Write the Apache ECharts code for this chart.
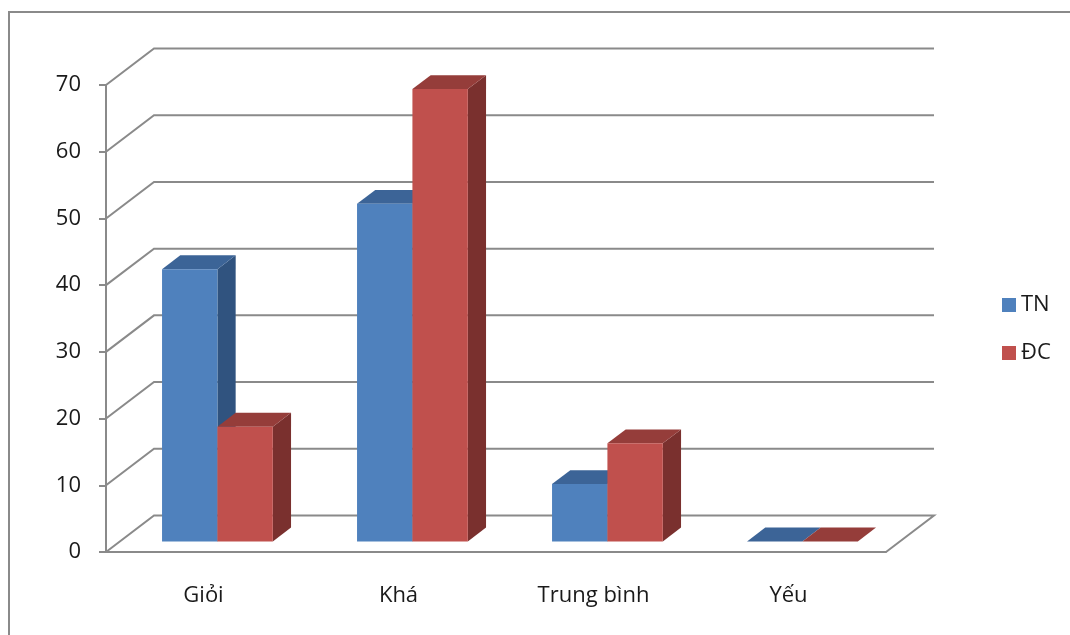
<!DOCTYPE html>
<html>
<head>
<meta charset="utf-8">
<script src="https://cdn.jsdelivr.net/npm/echarts@6/dist/echarts.min.js"></script>
<style>
  html, body { margin: 0; padding: 0; background: #ffffff; }
  #chart { width: 1070px; height: 635px; }
</style>
</head>
<body>
<div id="chart"></div>
<script>
// Xếp loại kết quả học tập: lớp thực nghiệm (TN) và lớp đối chứng (ĐC), %
const categories = ['Giỏi', 'Khá', 'Trung bình', 'Yếu'];
const seriesNames = ['TN', 'ĐC'];
const valuesTN = [40.8, 50.6, 8.6, 0];
const valuesDC = [17.2, 67.8, 14.7, 0];
const yTicks = [0, 10, 20, 30, 40, 50, 60, 70];

// oblique projection of the floor depth (pixels)
const DEPTH = [48, -36.5];
const BAR_FRONT = 0.29;   // bars start this far back on the floor
const BAR_DEPTH = 0.38;   // and are this deep
const BAR_WIDTH = 0.284;  // of one category band

const GRID_COLOR = '#8a8a8a';
const LINE_W = 2;
const TEXT_COLOR = '#1a1a1a';
const FONT = '"Open Sans", "DejaVu Sans", sans-serif';

const palettes = [
  { front: '#4f81bd', top: '#3c6497', side: '#30537f' },
  { front: '#c0504d', top: '#953d3a', side: '#7a302e' }
];

function wallItem(params, api) {
  const cs = params.coordSys;
  const v = api.value(0);
  const y = api.coord([0, v])[1];
  const left = cs.x;
  const right = cs.x + cs.width;
  const pts = [[left, y], [left + DEPTH[0], y + DEPTH[1]], [right + DEPTH[0], y + DEPTH[1]]];
  if (v === 0) pts.push([right, y]);
  return {
    type: 'polyline',
    shape: { points: pts },
    style: { stroke: GRID_COLOR, lineWidth: LINE_W, fill: null },
    silent: true
  };
}

function barRenderer(seriesIndex) {
  const pal = palettes[seriesIndex];
  return function (params, api) {
    const idx = api.value(0);
    const val = api.value(1);
    const center = api.coord([idx, 0]);
    const top = api.coord([idx, val]);
    const band = api.size([1, 0])[0];
    const w = band * BAR_WIDTH;
    const sx = DEPTH[0] * BAR_FRONT, sy = DEPTH[1] * BAR_FRONT;
    const dx = DEPTH[0] * BAR_DEPTH, dy = DEPTH[1] * BAR_DEPTH;
    const L = (seriesIndex === 0 ? center[0] - w : center[0]) + sx;
    const R = L + w;
    const y0 = center[1] + sy;
    const yv = top[1] + sy;
    return {
      type: 'group',
      children: [
        {
          type: 'polygon',
          shape: { points: [[R, yv], [R + dx, yv + dy], [R + dx, y0 + dy], [R, y0]] },
          style: { fill: pal.side }
        },
        {
          type: 'polygon',
          shape: { points: [[L, yv], [L + dx, yv + dy], [R + dx, yv + dy], [R, yv]] },
          style: { fill: pal.top }
        },
        {
          type: 'rect',
          shape: { x: L, y: yv, width: w, height: y0 - yv },
          style: { fill: pal.front }
        }
      ]
    };
  };
}

const chart = echarts.init(document.getElementById('chart'), null, { renderer: 'canvas' });

chart.setOption({
  backgroundColor: '#ffffff',
  animation: false,
  textStyle: { fontFamily: FONT },
  graphic: [{
    type: 'rect',
    shape: { x: 9, y: 12, width: 1200, height: 800 },
    style: { fill: null, stroke: GRID_COLOR, lineWidth: 2 },
    silent: true,
    z: -10
  }],
  legend: {
    orient: 'vertical',
    left: 997,
    top: 289,
    itemWidth: 14,
    itemHeight: 14,
    itemGap: 26,
    icon: 'rect',
    data: seriesNames,
    textStyle: { fontSize: 22, color: TEXT_COLOR, fontFamily: FONT }
  },
  grid: { left: 106, top: 85, width: 780, height: 467 },
  xAxis: {
    type: 'category',
    data: categories,
    axisLine: { lineStyle: { color: GRID_COLOR, width: LINE_W } },
    axisTick: { length: 6, lineStyle: { color: GRID_COLOR, width: LINE_W } },
    axisLabel: { fontSize: 22, color: TEXT_COLOR, margin: 33, fontFamily: FONT },
    splitLine: { show: false }
  },
  yAxis: {
    type: 'value',
    min: 0,
    max: 70,
    interval: 10,
    axisLine: { show: true, lineStyle: { color: GRID_COLOR, width: LINE_W } },
    axisTick: { show: true, length: 7, lineStyle: { color: GRID_COLOR, width: LINE_W } },
    axisLabel: { fontSize: 22, color: TEXT_COLOR, margin: 25, fontFamily: FONT },
    splitLine: { show: false }
  },
  series: [
    {
      type: 'custom',
      name: 'walls',
      silent: true,
      renderItem: wallItem,
      data: yTicks.map(v => [v]),
      encode: { y: 0 },
      z: 1
    },
    {
      type: 'custom',
      name: seriesNames[0],
      itemStyle: { color: palettes[0].front },
      renderItem: barRenderer(0),
      data: valuesTN.map((v, i) => [i, v]),
      encode: { x: 0, y: 1 },
      z: 2
    },
    {
      type: 'custom',
      name: seriesNames[1],
      itemStyle: { color: palettes[1].front },
      renderItem: barRenderer(1),
      data: valuesDC.map((v, i) => [i, v]),
      encode: { x: 0, y: 1 },
      z: 3
    }
  ]
});
</script>
</body>
</html>
